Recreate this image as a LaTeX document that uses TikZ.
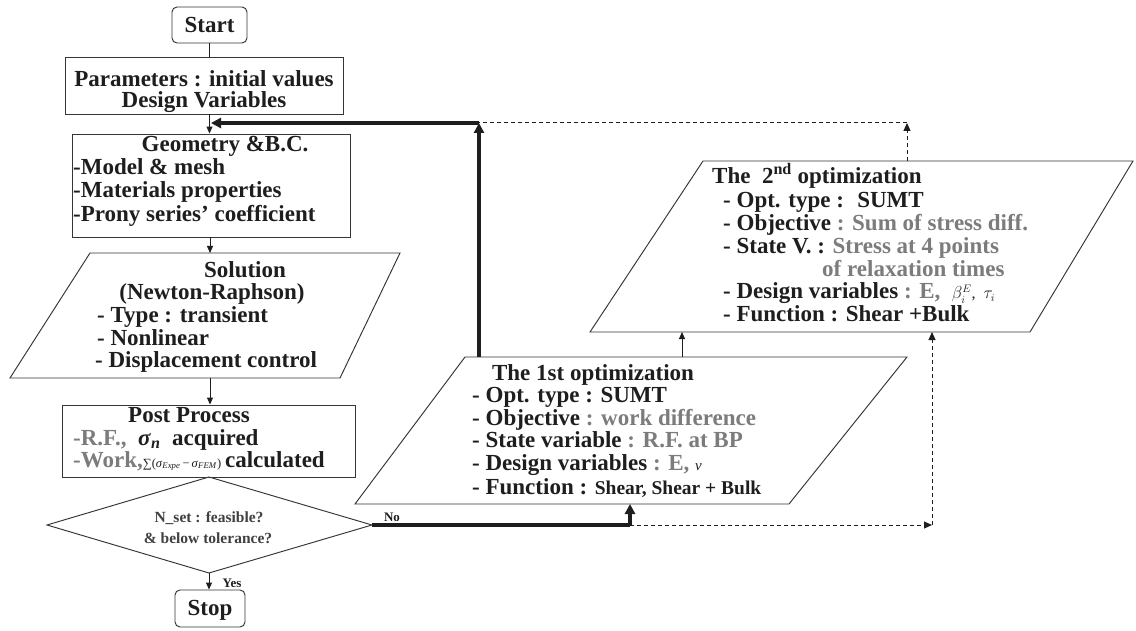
\documentclass[tikz,border=0pt]{standalone}
\usepackage{fontspec}
\setmainfont{Liberation Serif}
\usetikzlibrary{arrows.meta}
\definecolor{ink}{HTML}{1E1E1E}
\definecolor{soft}{HTML}{7C7C7C}
\tikzset{
  frame/.style={draw=ink!90, line width=0.95pt, inner sep=0pt},
  rframe/.style={frame, rounded corners=5pt},
  flow/.style={draw=ink, line width=1pt, -{Triangle[length=7pt,width=6pt]}},
  heavy/.style={draw=ink, line width=3.2pt},
  heavyarrow/.style={heavy, -{Triangle[length=10pt,width=10pt]}},
  dashline/.style={draw=ink, line width=1pt, dash pattern=on 4pt off 3pt},
  dashflow/.style={dashline, -{Triangle[length=8pt,width=7pt]}},
  big/.style={font=\bfseries\fontsize{23}{25}\selectfont, inner sep=0pt, text=ink},
  mid/.style={font=\bfseries\fontsize{15.5}{17}\selectfont, inner sep=0pt, text=ink!85},
  tiny/.style={font=\bfseries\fontsize{13}{14}\selectfont, inner sep=0pt, text=ink},
}
\begin{document}
\begin{tikzpicture}[x=1pt,y=-1pt]
\useasboundingbox[fill=white] (0,0) rectangle (1136,631);

% ---- left column boxes
\node[rframe, minimum width=75pt, minimum height=36pt] (start) at (209.5,25) {};
\node[frame, minimum width=278pt, minimum height=57pt] (param) at (204,85.5) {};
\node[frame, minimum width=278pt, minimum height=103pt] (geom) at (211,185.5) {};
\node[frame, minimum width=293pt, minimum height=72pt] (post) at (208.5,441) {};
\node[rframe, minimum width=70pt, minimum height=37pt] (stop) at (210,608.5) {};

% solution (slanted box)
\coordinate (sol-a) at (90,253);
\coordinate (sol-b) at (400,253);
\coordinate (sol-c) at (340,378);
\coordinate (sol-d) at (10,378);
\draw[frame] (sol-a) -- (sol-b) -- (sol-c) -- (sol-d) -- cycle;
\coordinate (sol-top) at (210,253);
\coordinate (sol-bot) at (210,378);

% decision
\coordinate (dia-w) at (47,525);
\coordinate (dia-n) at (209,477);
\coordinate (dia-e) at (372,525);
\coordinate (dia-s) at (209,573);
\draw[frame] (dia-w) -- (dia-n) -- (dia-e) -- (dia-s) -- cycle;

% first optimization
\coordinate (o1-a) at (465,357);
\coordinate (o1-b) at (907,357);
\coordinate (o1-c) at (789,504);
\coordinate (o1-d) at (355,504);
\draw[frame] (o1-a) -- (o1-b) -- (o1-c) -- (o1-d) -- cycle;

% second optimization
\coordinate (o2-a) at (703,161);
\coordinate (o2-b) at (1133,161);
\coordinate (o2-c) at (1030,332);
\coordinate (o2-d) at (590,332);
\draw[frame] (o2-a) -- (o2-b) -- (o2-c) -- (o2-d) -- cycle;

% ---- connector points
\coordinate (geom-in) at (211,123);
\coordinate (jn) at (479,123);
\coordinate (o1-up) at (479,357);
\coordinate (o1-mid) at (682,357);
\coordinate (o2-low) at (682,332);
\coordinate (o2-up) at (907,161);
\coordinate (dc1) at (907,123);
\coordinate (nocorner) at (630,525);
\coordinate (o1-in) at (630,504);
\coordinate (dc2) at (932,525);
\coordinate (o2-in) at (932,332);

% ---- main flow
\draw[draw=ink, line width=1pt] (start.south) -- (start.south |- param.north);
\draw[flow] (param.south -| start.south) -- (geom.north -| start.south);
\draw[flow] (geom.south -| sol-top) -- (sol-top);
\draw[flow] (sol-bot) -- (post.north -| sol-bot);
\draw[flow] (dia-s) -- (stop.north -| dia-s);

% ---- optimisation loop
\draw[heavy] (dia-e) -- (nocorner);
\draw[heavyarrow] (nocorner) -- (o1-in);
\draw[heavyarrow] (o1-up) -- (jn);
\draw[heavyarrow] (jn) -- (geom-in);
\draw[flow] (o1-mid) -- (o2-low);
\draw[dashflow] (nocorner) -- (dc2);
\draw[dashflow] (dc2) -- (o2-in);
\draw[dashflow] (o2-up) -- (dc1);
\draw[dashline] (dc1) -- (jn);

% ---- texts
\node[big, anchor=base] (t-start) at (209.5,33) {Start};
\node[big, anchor=base] (t-par1) at (204,87) {Parameters : initial values};
\node[big, anchor=base] (t-par2) at (204,108) {Design Variables};

\node[big, anchor=base] (t-geo0) at (225,152) {Geometry \&B.C.};
\node[big, anchor=base west] (t-geo1) at (73,175) {-Model \& mesh};
\node[big, anchor=base west] (t-geo2) at (73,198) {-Materials properties};
\node[big, anchor=base west] (t-geo3) at (73,222) {-Prony series’ coefficient};

\node[big, anchor=base] (t-sol0) at (245,278) {Solution};
\node[big, anchor=base] (t-sol1) at (212,300) {(Newton-Raphson)};
\node[big, anchor=base west] (t-sol2) at (97,323) {- Type : transient};
\node[big, anchor=base west] (t-sol3) at (97,345) {- Nonlinear};
\node[big, anchor=base west] (t-sol4) at (95,367) {- Displacement control};

\node[big, anchor=base] (t-post0) at (189,422) {Post Process};
\node[big, anchor=base west] (t-post1) at (73,445)
  {\textcolor{soft}{-R.F.,}\ \ \textit{σ}\textsubscript{\textit{n}}\ \ acquired};
\node[big, anchor=base west] (t-post2) at (73,467)
  {\textcolor{soft}{-Work,}{\mdseries\fontsize{12.5}{13}\selectfont ∑(\textit{σ}\textsubscript{\textit{Expe}}\,−\,\textit{σ}\textsubscript{\textit{FEM}})}\,calculated};

\node[mid, anchor=base] (t-dia1) at (209,522) {N\_set : feasible?};
\node[mid, anchor=base] (t-dia2) at (208,543) {\& below tolerance?};

\node[big, anchor=base] (t-stop) at (210,615) {Stop};
\node[tiny, anchor=base] (t-yes) at (232,587) {Yes};
\node[tiny, anchor=base] (t-no) at (392,521) {No};

\node[big, anchor=base] (t-o1-0) at (593,380) {The 1st optimization};
\node[big, anchor=base west] (t-o1-1) at (472,402) {- Opt. type : SUMT};
\node[big, anchor=base west] (t-o1-2) at (472,425) {- Objective \textcolor{soft}{: work difference}};
\node[big, anchor=base west] (t-o1-3) at (472,447) {- State variable \textcolor{soft}{: R.F. at BP}};
\node[big, anchor=base west] (t-o1-4) at (472,470)
  {- Design variables \textcolor{soft}{: E,} {\mdseries\fontsize{15}{15}\selectfont\textit{ν}}};
\node[big, anchor=base west] (t-o1-5) at (472,494)
  {- Function : {\fontsize{19.5}{20}\selectfont Shear, Shear + Bulk}};

\node[big, anchor=base west] (t-o2-0) at (712,184) {The \ 2\textsuperscript{nd} optimization};
\node[big, anchor=base west] (t-o2-1) at (723,208) {- Opt. type : \ SUMT};
\node[big, anchor=base west] (t-o2-2) at (723,231) {- Objective \textcolor{soft}{: Sum of stress diff.}};
\node[big, anchor=base west] (t-o2-3) at (723,254) {- State V. : \textcolor{soft}{Stress at 4 points}};
\node[big, anchor=base west, text=soft] (t-o2-4) at (822,277) {of relaxation times};
\node[big, anchor=base west] (t-o2-5) at (723,299)
  {- Design variables \textcolor{soft}{: E,} \ {\mdseries\fontsize{16}{16}\selectfont$\beta_i^{E}$,\ \ $\tau_i$}};
\node[big, anchor=base west] (t-o2-6) at (723,322) {- Function : Shear +Bulk};
\end{tikzpicture}
\end{document}
